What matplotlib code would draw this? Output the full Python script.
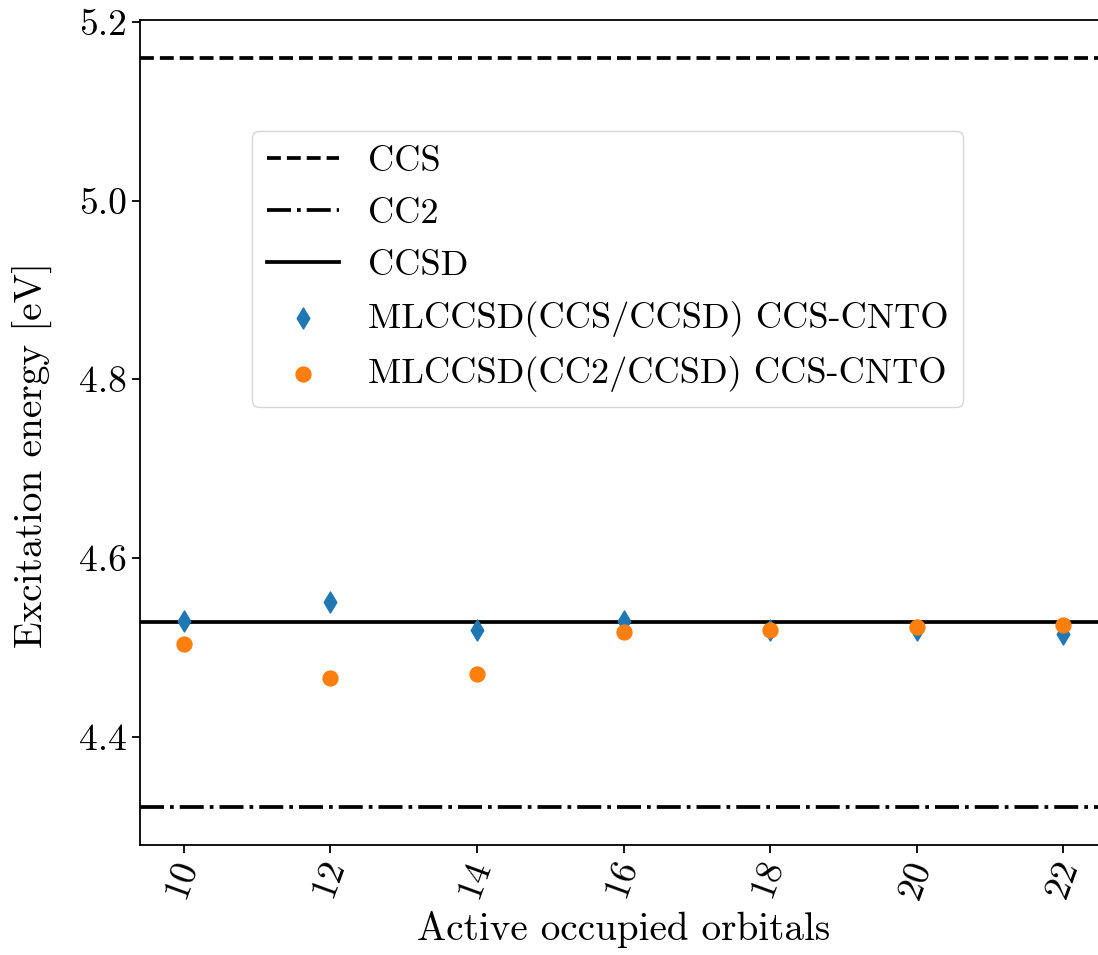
import matplotlib
matplotlib.use("Agg")
import matplotlib.pyplot as plt

plt.rcParams['font.family'] = ['cmr10', 'DejaVu Serif']
plt.rcParams['mathtext.fontset'] = 'cm'
plt.rcParams['axes.formatter.use_mathtext'] = True

# Data
orbitals = [10, 12, 14, 16, 18, 20, 22]
ml_ccs = [4.530, 4.551, 4.519, 4.530, 4.520, 4.519, 4.515]
ml_cc2 = [4.504, 4.466, 4.470, 4.517, 4.520, 4.523, 4.525]
e_ccs = 5.160
e_cc2 = 4.321
e_ccsd = 4.528
xtick_labels = ["10", "12", "14", "16", "18", "20", "22"]
yticks = [4.4, 4.6, 4.8, 5.0, 5.2]

fig = plt.figure(figsize=(10.98, 9.55), dpi=100)
ax = fig.add_axes([140/1098, 1 - 845/955, 967/1098, 825/955])

lw = 2.7
ax.axhline(e_ccs, color='black', ls='--', lw=lw, label='CCS')
ax.axhline(e_cc2, color='black', ls='-.', lw=lw, label='CC2')
ax.axhline(e_ccsd, color='black', ls='-', lw=lw, label='CCSD')
ax.scatter(orbitals, ml_ccs, marker='d', s=115, color='#1f77b4', label='MLCCSD(CCS/CCSD) CCS-CNTO', zorder=3)
ax.scatter(orbitals, ml_cc2, marker='o', s=115, color='#ff7f0e', label='MLCCSD(CC2/CCSD) CCS-CNTO', zorder=3)

ax.set_xticks(orbitals)
ax.set_xticklabels([r'$\mathit{%s}$' % t for t in xtick_labels], rotation=70, fontsize=27)
ax.set_yticks(yticks)
ax.set_yticklabels(["%.1f" % v for v in yticks], fontsize=27)
ax.set_xlim(9.4, 22.6)
ax.set_ylim(4.279, 5.202)

ax.set_xlabel('Active occupied orbitals', fontsize=28.2)
ax.set_ylabel('Excitation energy [eV]', fontsize=28.3)
ax.yaxis.set_label_coords(-0.09, 0.4727)

for s in ax.spines.values():
    s.set_linewidth(1.3)
ax.tick_params(width=1.3, length=6)

leg = ax.legend(loc='upper left', bbox_to_anchor=(0.1158, 0.8655), borderaxespad=0,
                fontsize=26.2, markerscale=1.0, framealpha=0.8, labelspacing=0.53)

fig.savefig('out.png', dpi=100)
